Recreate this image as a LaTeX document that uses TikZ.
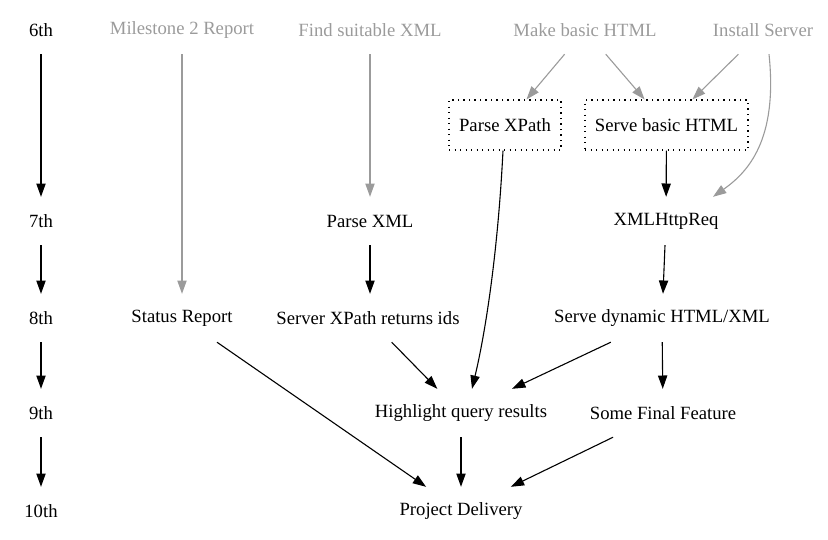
\documentclass[tikz,border=0pt]{standalone}
\usepackage{fontspec}
\setmainfont{Liberation Serif}
\usetikzlibrary{arrows.meta}
\definecolor{lgray}{RGB}{155,155,155}
\tikzset{
  lbl/.style={inner sep=0pt, minimum height=48pt, font=\fontsize{18.67}{22}\selectfont},
  glbl/.style={lbl, text=lgray},
  dbox/.style={lbl, draw, line width=1.1pt, dash pattern=on 1.3pt off 4.2pt, minimum height=50pt},
  blk/.style={draw=black, line width=1.1pt, -{Triangle[length=13.3pt,width=9.3pt]}},
  gry/.style={draw=lgray, line width=1.1pt, -{Triangle[length=13.3pt,width=9.3pt]}, lgray}
}
\begin{document}
\begin{tikzpicture}[x=1pt,y=-1pt]
\useasboundingbox (0,0) rectangle (828,539);
% rank labels
\node[lbl] (r6) at (41,30) {6th};
\node[lbl] (r7) at (41,221) {7th};
\node[lbl] (r8) at (41,318) {8th};
\node[lbl] (r9) at (41,413) {9th};
\node[lbl] (r10) at (41,511) {10th};
% gray top nodes
\node[glbl] (ms) at (182,30) {Milestone 2 Report};
\node[glbl] (fx) at (370,30) {Find suitable XML};
\node[glbl] (mh) at (585,30) {Make basic HTML};
\node[glbl] (is) at (763,30) {Install Server};
% boxes
\node[dbox, minimum width=112pt] (px) at (505,125) {Parse XPath};
\node[dbox, minimum width=163pt] (sb) at (666.5,125) {Serve basic HTML};
% rank 7
\node[lbl] (pxml) at (370,221) {Parse XML};
\node[lbl] (xh) at (666,221) {XMLHttpReq};
% rank 8
\node[lbl] (sr) at (182,318) {Status Report};
\node[lbl] (sx) at (368,318) {Server XPath returns ids};
\node[lbl] (sd) at (662,318) {Serve dynamic HTML/XML};
% rank 9
\node[lbl] (hl) at (461,413) {Highlight query results};
\node[lbl] (sf) at (663,413) {Some Final Feature};
% rank 10
\node[lbl] (pd) at (461,511) {Project Delivery};
% timeline
\draw[blk] (r6) -- (r7);
\draw[blk] (r7) -- (r8);
\draw[blk] (r8) -- (r9);
\draw[blk] (r9) -- (r10);
% gray edges
\draw[gry] (ms) -- (sr);
\draw[gry] (fx) -- (pxml);
\draw[gry] (mh) -- (px);
\draw[gry] (mh) -- (sb);
\draw[gry] (is) -- (sb);
\draw[gry] ([xshift=6pt]is.south) .. controls (778,140) and (748,172) .. ([xshift=47pt]xh.north);
% black edges
\draw[blk] ([xshift=-2pt]px.south) .. controls (498,250) and (486,330) .. ([xshift=11pt]hl.north);
\draw[blk] (sb) -- (xh);
\draw[blk] (pxml) -- (pxml |- sx.north);
\draw[blk] (xh) -- (sd);
\draw[blk] (sx) -- (hl);
\draw[blk] (sd) -- (hl);
\draw[blk] (sd) -- (sf);
\draw[blk] (sr) -- (pd);
\draw[blk] (hl) -- (pd);
\draw[blk] (sf) -- (pd);
\end{tikzpicture}
\end{document}
